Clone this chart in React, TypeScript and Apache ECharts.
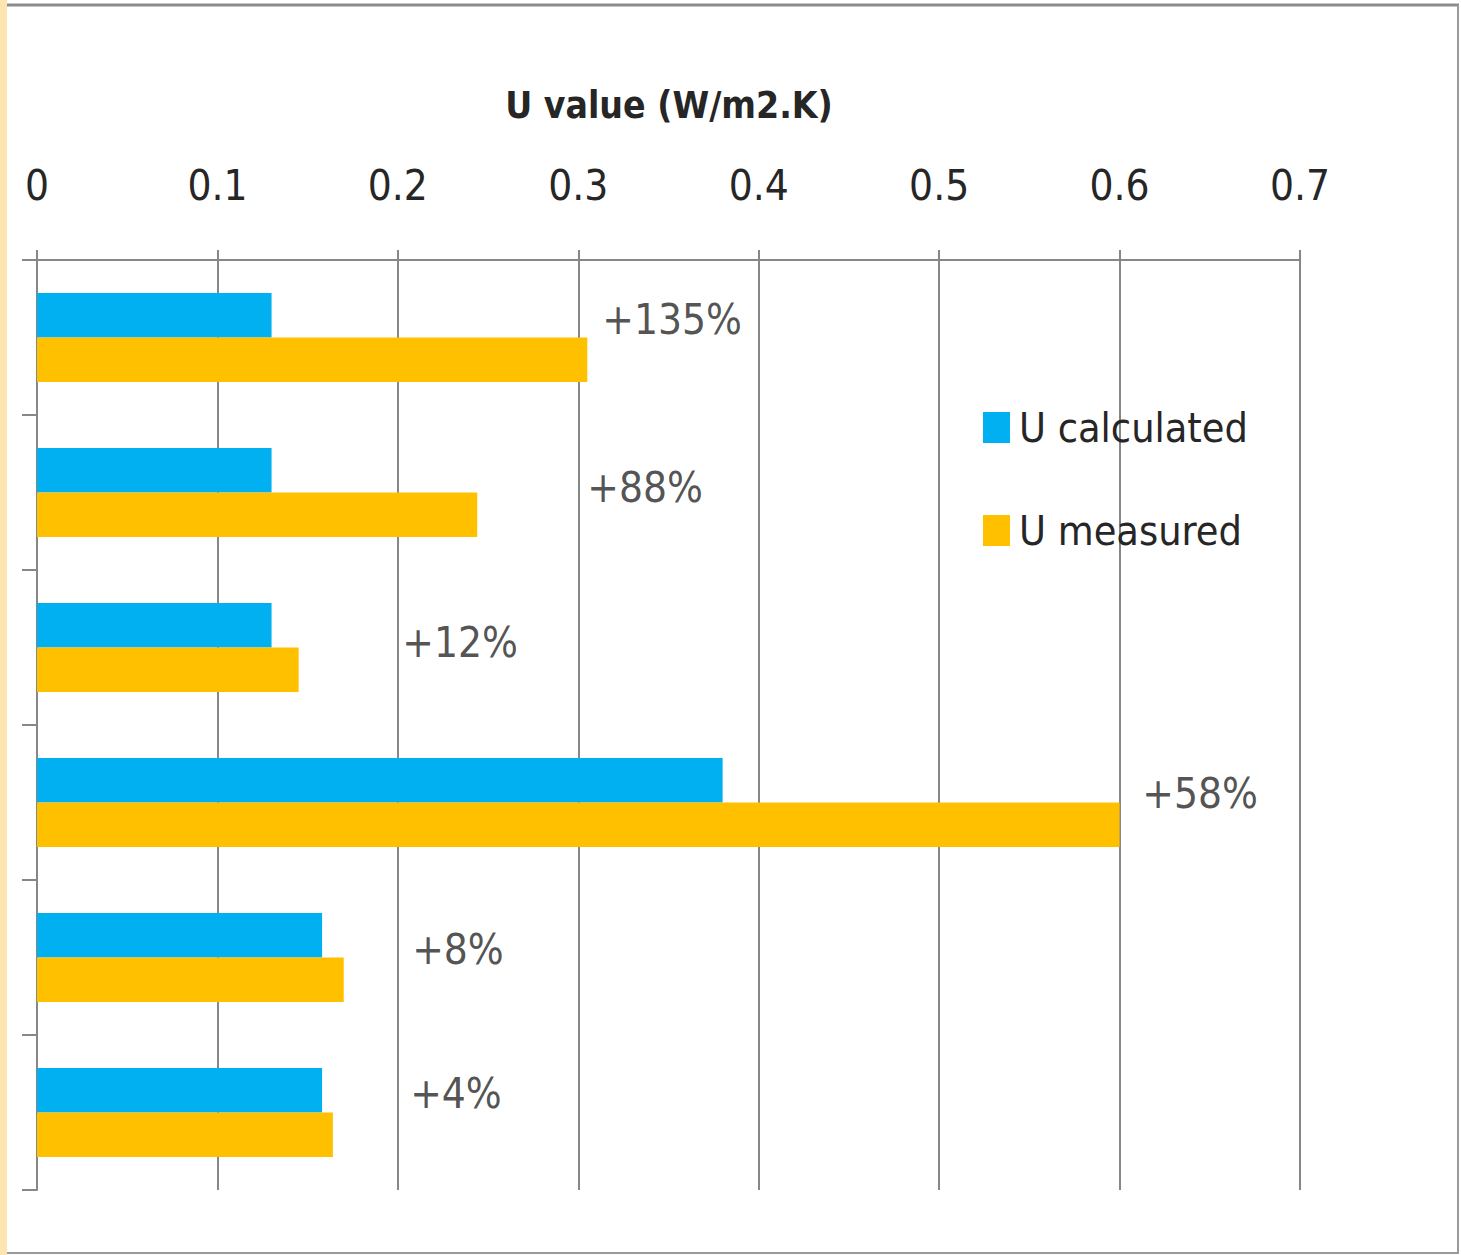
import React, { useEffect, useRef } from "react";
import * as echarts from "echarts";

const categories = ["A", "B", "C", "D", "E", "F"];
const uCalculated = [0.13, 0.13, 0.13, 0.38, 0.158, 0.158];
const uMeasured = [0.305, 0.244, 0.145, 0.6, 0.17, 0.164];
const diffLabels = ["+135%", "+88%", "+12%", "+58%", "+8%", "+4%"];
// annotation anchor positions in data units: [x value, category position]
const labelX = [0.352, 0.337, 0.2345, 0.6446, 0.2333, 0.2322];
const labelY = [0.387, 1.465, 2.465, 3.44, 4.45, 5.375];
const xTicks = [0, 0.1, 0.2, 0.3, 0.4, 0.5, 0.6, 0.7];

const FONT = "'Liberation Sans Narrow', 'DejaVu Sans Condensed', 'Liberation Sans', sans-serif";
const TEXT = "#262626";
const GRID = "#878787";
const FS = 42;

export default function App() {
  const ref = useRef<HTMLDivElement>(null);
  useEffect(() => {
    document.body.style.margin = "0";
    const chart = echarts.init(ref.current!, null, { renderer: "svg" });
    chart.setOption({
      animation: false,
      backgroundColor: "#ffffff",
      textStyle: { fontFamily: FONT },
      grid: { left: 37, right: 161, top: 260, bottom: 65, containLabel: false },
      legend: {
        orient: "vertical",
        left: 978,
        top: 402,
        itemWidth: 27,
        itemHeight: 31,
        itemGap: 62,
        icon: "rect",
        textStyle: { fontFamily: FONT, fontSize: 41, color: TEXT, padding: [0, 0, 0, 4] },
        data: ["U calculated", "U measured"],
      },
      graphic: [
        { type: "rect", shape: { x: 0, y: 0, width: 7, height: 1255 }, style: { fill: "#FDE5B2" }, silent: true },
        { type: "line", shape: { x1: 7, y1: 5, x2: 1459, y2: 5 }, style: { stroke: "#8c8c8c", lineWidth: 3 }, silent: true },
        { type: "line", shape: { x1: 1458, y1: 5, x2: 1458, y2: 1254 }, style: { stroke: "#9a9a9a", lineWidth: 2 }, silent: true },
        { type: "line", shape: { x1: 7, y1: 1253, x2: 1459, y2: 1253 }, style: { stroke: "#9a9a9a", lineWidth: 2 }, silent: true },
        {
          type: "text",
          x: 669,
          y: 105,
          style: {
            text: "U value (W/m2.K)",
            font: `bold 37px ${FONT}`,
            fill: TEXT,
            textAlign: "center",
            textVerticalAlign: "middle",
          },
        },
      ],
      xAxis: {
        type: "value",
        position: "top",
        min: 0,
        max: 0.7,
        interval: 0.1,
        axisLine: { show: true, lineStyle: { color: GRID, width: 2 } },
        axisTick: { show: true, length: 10, lineStyle: { color: GRID, width: 2 } },
        splitLine: { show: true, lineStyle: { color: GRID, width: 2 } },
        axisLabel: {
          margin: 54,
          fontSize: FS,
          color: TEXT,
          fontFamily: FONT,
          formatter: (v: number) => {
            const t = xTicks.find((x) => Math.abs(x - v) < 1e-9);
            return t === undefined ? "" : String(t);
          },
        },
      },
      yAxis: [
        {
          type: "category",
          inverse: true,
          data: categories,
          axisLine: { show: true, lineStyle: { color: GRID, width: 2 } },
          axisTick: { show: true, length: 15, lineStyle: { color: GRID, width: 2 } },
          axisLabel: { show: false },
        },
        {
          type: "value",
          min: 0,
          max: 6,
          inverse: true,
          show: false,
        },
      ],
      series: [
        {
          name: "U calculated",
          type: "bar",
          data: uCalculated,
          itemStyle: { color: "#00B0F0" },
          barGap: "0%",
          barCategoryGap: "42.5%",
        },
        {
          name: "U measured",
          type: "bar",
          data: uMeasured,
          itemStyle: { color: "#FFC000" },
          barGap: "0%",
          barCategoryGap: "42.5%",
        },
        {
          type: "scatter",
          yAxisIndex: 1,
          symbolSize: 0,
          silent: true,
          data: diffLabels.map((t, i) => [labelX[i], labelY[i], t]),
          label: {
            show: true,
            position: "inside",
            formatter: (p: any) => p.data[2],
            fontSize: FS,
            color: TEXT,
            fontFamily: FONT,
          },
        },
      ],
    });
    return () => chart.dispose();
  }, []);
  return <div ref={ref} style={{ width: 1461, height: 1255 }} />;
}
